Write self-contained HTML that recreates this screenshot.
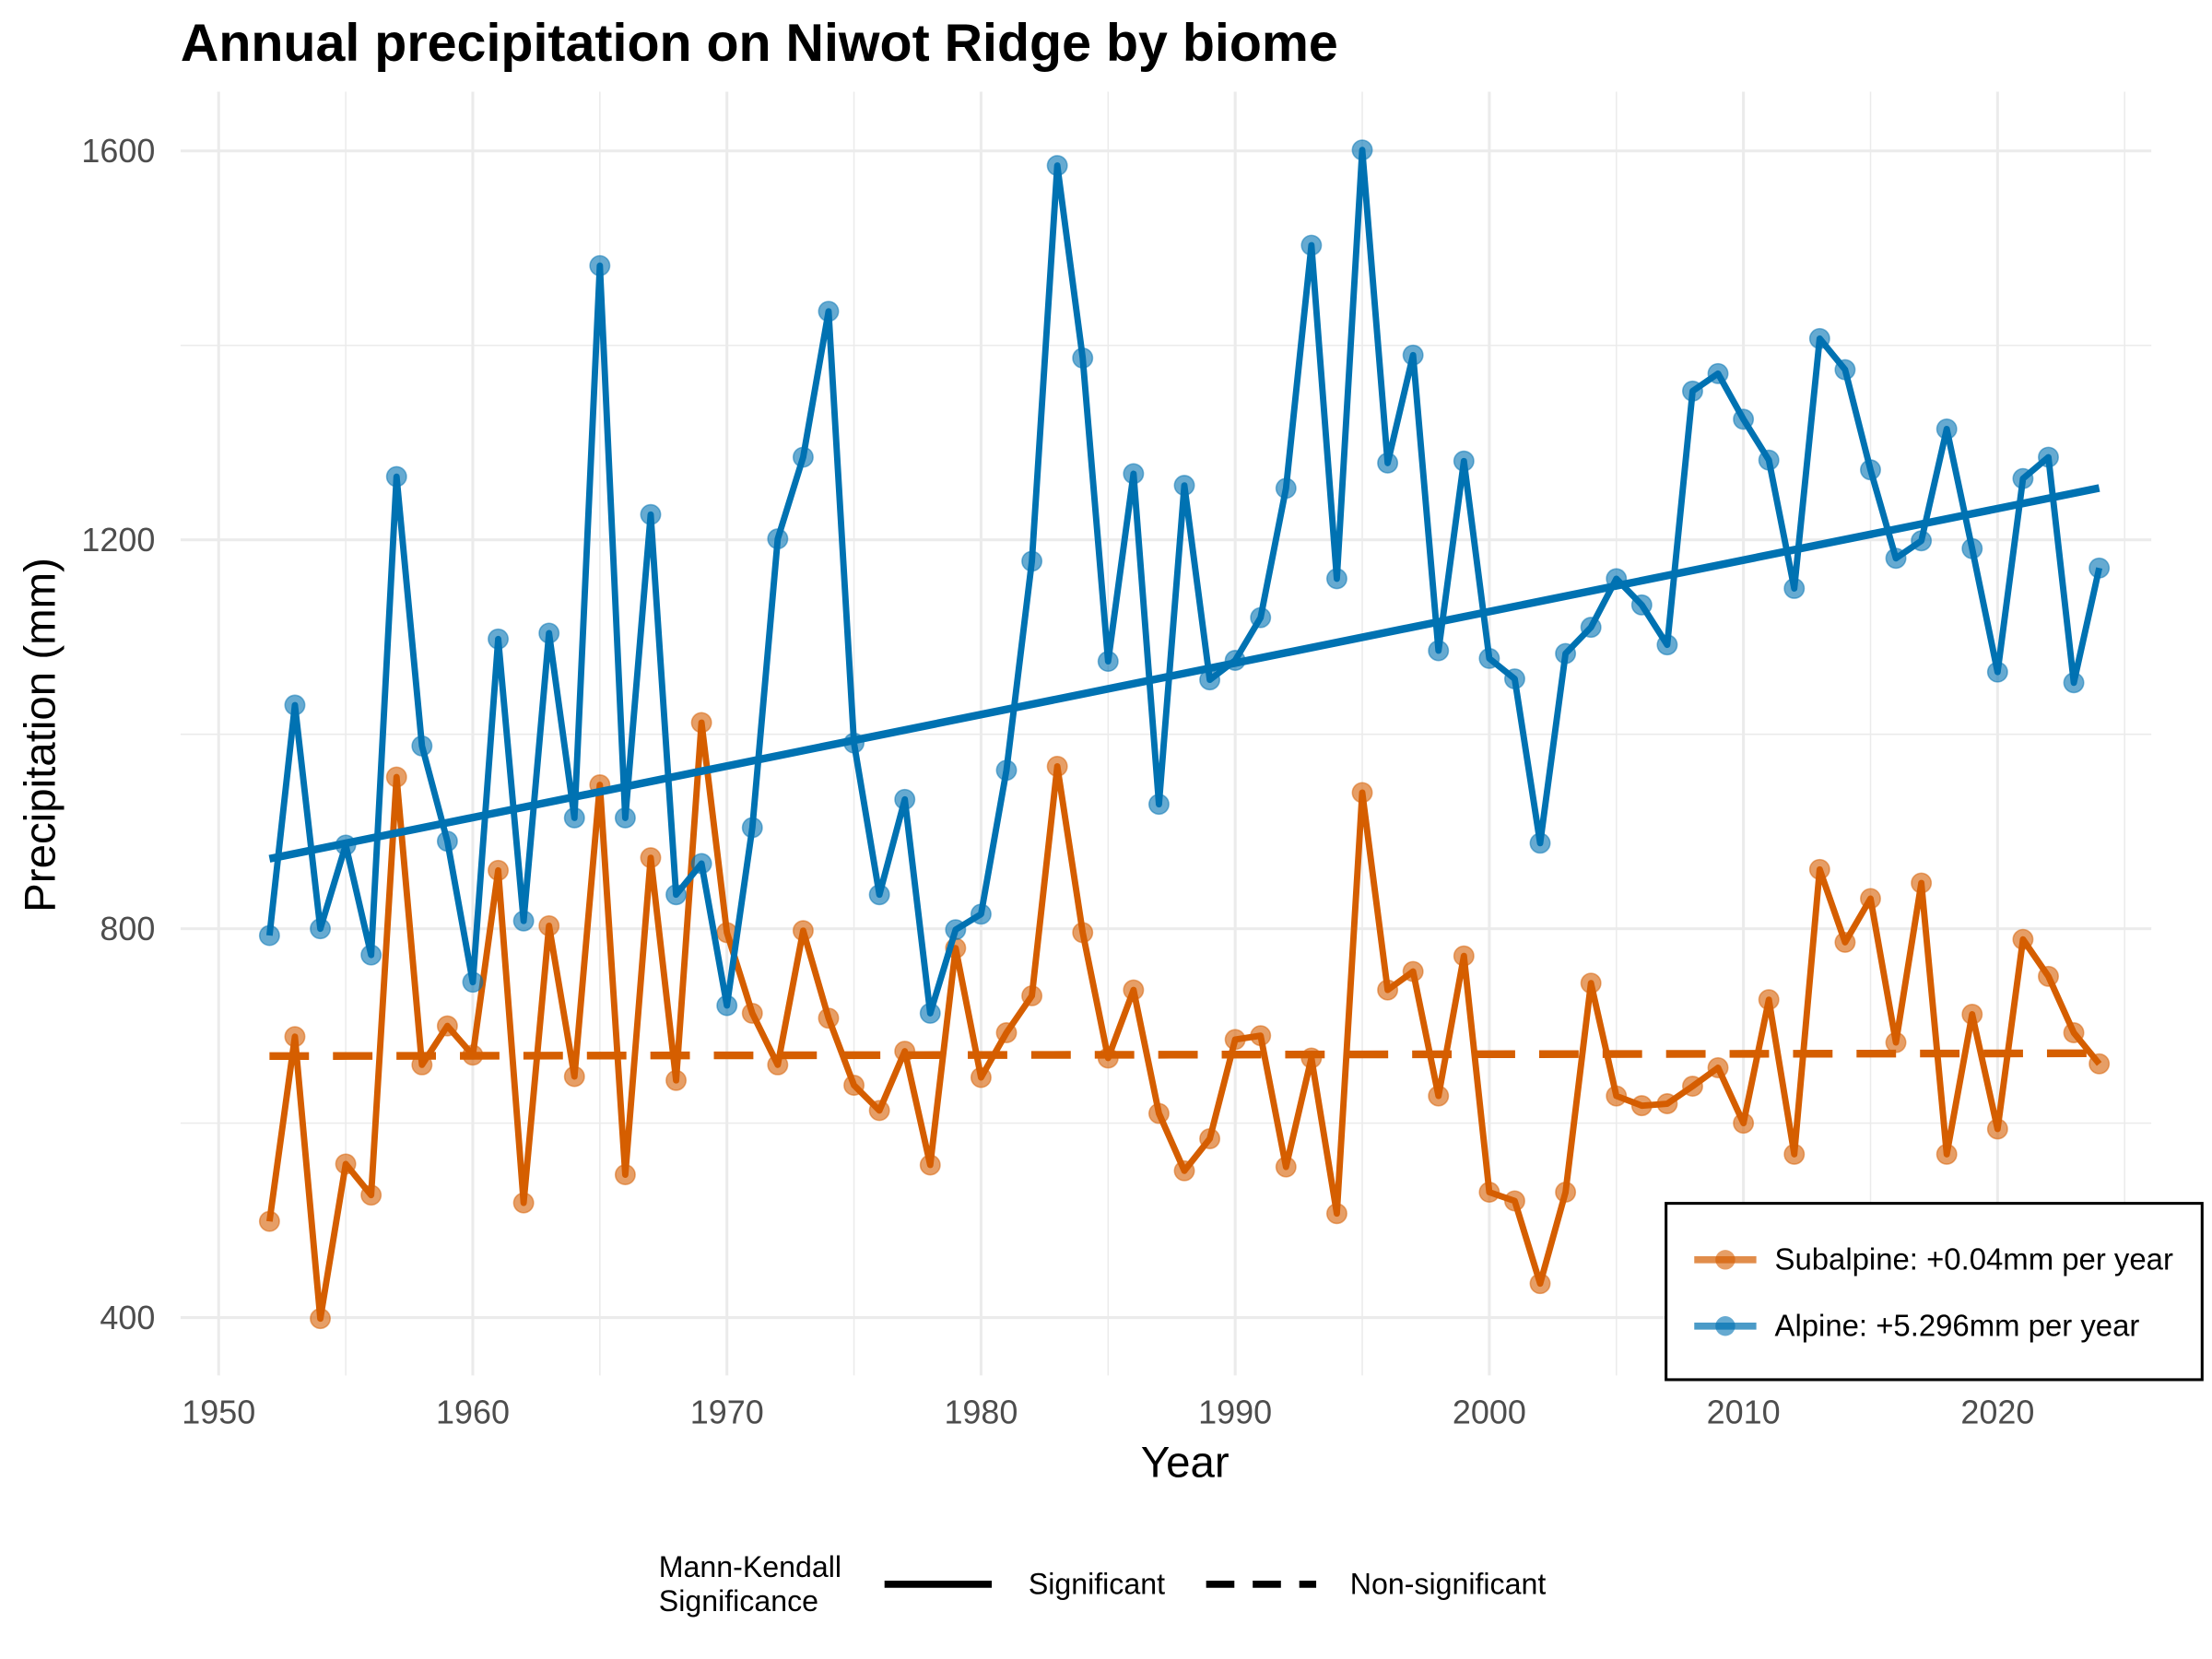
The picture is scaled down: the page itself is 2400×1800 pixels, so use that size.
<!DOCTYPE html>
<html><head><meta charset="utf-8"><style>
html,body{margin:0;padding:0;background:#fff;}
svg{display:block;font-family:"Liberation Sans",Arial,sans-serif;}
</style></head><body>
<svg id="chart" width="2400" height="1800" viewBox="0 0 1568 1176" xmlns="http://www.w3.org/2000/svg">
<rect width="1568" height="1176" fill="#fff"/>
<text x="128" y="43" font-size="37.5" font-weight="bold" fill="#000">Annual precipitation on Niwot Ridge by biome</text>
<g id="grid"></g>
<g id="series"></g>
<g id="axes"></g>
<text x="840" y="1047" font-size="31" text-anchor="middle" fill="#000">Year</text>
<text transform="translate(39,521) rotate(-90)" font-size="31" text-anchor="middle" fill="#000">Precipitation (mm)</text>
<g>
<rect x="1181" y="853" width="380" height="125" fill="#fff" stroke="#000" stroke-width="2"/>
<g>
<line x1="1201" y1="893" x2="1245" y2="893" stroke="#D55E00" stroke-width="5" opacity="0.7"/>
<circle cx="1223" cy="893" r="7" fill="#D55E00" opacity="0.6"/>
<text x="1258" y="900" font-size="21.5" fill="#000">Subalpine: +0.04mm per year</text>
</g>
<g>
<line x1="1201" y1="940" x2="1245" y2="940" stroke="#0072B2" stroke-width="5" opacity="0.7"/>
<circle cx="1223" cy="940" r="7" fill="#0072B2" opacity="0.6"/>
<text x="1258" y="947" font-size="21.5" fill="#000">Alpine: +5.296mm per year</text>
</g>
</g>
<g>
<text x="467" y="1118" font-size="21" fill="#000">Mann-Kendall</text>
<text x="467" y="1142" font-size="21" fill="#000">Significance</text>
<line x1="627" y1="1123" x2="703" y2="1123" stroke="#000" stroke-width="5"/>
<text x="729" y="1130" font-size="21" fill="#000">Significant</text>
<line x1="855" y1="1123" x2="933" y2="1123" stroke="#000" stroke-width="5" stroke-dasharray="20,13"/>
<text x="957" y="1130" font-size="21" fill="#000">Non-significant</text>
</g>
</svg>
<script>
const years = [];
for (let y = 1952; y <= 2024; y++) years.push(y);
const alpine = [793,1030,800,886,773,1265,988,890,745,1098,808,1104,914,1482,914,1226,835,867,721,904,1201,1285,1435,991,835,933,713,799,815,963,1178,1585,1387,1075,1268,928,1256,1056,1076,1120,1253,1503,1160,1601,1279,1390,1086,1281,1078,1057,888,1083,1110,1160,1133,1092,1353,1371,1324,1282,1150,1407,1375,1272,1181,1199,1314,1191,1064,1263,1285,1053,1171];
const subalpine = [499,689,399,558,526,956,660,700,670,860,518,803,648,948,547,873,644,1012,796,713,660,798,708,639,613,674,557,780,647,693,731,967,796,667,737,610,551,584,686,690,555,667,507,940,737,756,628,772,529,520,435,529,744,628,618,620,638,657,600,727,568,861,786,831,683,847,568,712,594,789,751,693,661];
const alpineTrend = [872, 5.296];
const subalpineTrend = [669, 0.04];
const xTicks = [1950,1960,1970,1980,1990,2000,2010,2020];
const yTicks = [400,800,1200,1600];

const NS = "http://www.w3.org/2000/svg";
function X(yr){ return 155 + (yr-1950)*(1416-155)/70; }
function Y(v){ return 934 - (v-400)*(934-107)/1200; }
function mk(tag, attrs, parent){ const e=document.createElementNS(NS,tag); for(const k in attrs) e.setAttribute(k,attrs[k]); parent.appendChild(e); return e; }

const grid = document.getElementById('grid');
const axes = document.getElementById('axes');
const L=128,R=1525,T=65,B=975;
for (let yr=1950; yr<=2025; yr+=5) {
  const l = mk('line',{x1:X(yr),x2:X(yr),y1:T,y2:B,stroke:'#ebebeb','stroke-width':yr%10===0?2:1},grid);
  
  
}
for (let v=400; v<=1600; v+=200) {
  const l = mk('line',{x1:L,x2:R,y1:Y(v),y2:Y(v),stroke:'#ebebeb','stroke-width':v%400===0?2:1},grid);
  
  
}
xTicks.forEach(t=>{
  const e = mk('text',{x:X(t),y:1009,'font-size':23.5,'text-anchor':'middle',fill:'#4d4d4d'},axes);
  e.textContent = t;
  
  
});
yTicks.forEach(t=>{
  const e = mk('text',{x:110,y:Y(t)+8,'font-size':23.5,'text-anchor':'end',fill:'#4d4d4d'},axes);
  e.textContent = t;
  
  
});

const series = document.getElementById('series');
function drawSeries(vals, color, trend, dashed, name){
  const g = mk('g',{},series);
  
  
  const pts = vals.map((v,i)=>X(years[i])+','+Y(v)).join(' ');
  const pl = mk('polyline',{points:pts,fill:'none',stroke:color,'stroke-width':4.5,'stroke-linejoin':'round'},g);
  
  
  vals.forEach((v,i)=>{
    const c = mk('circle',{cx:X(years[i]),cy:Y(v),r:7,fill:color,'fill-opacity':0.6,stroke:color,'stroke-opacity':0.5},g);
    
    
  });
  const y0 = years[0], y1 = years[years.length-1];
  const attrs = {x1:X(y0),y1:Y(trend[0]),x2:X(y1),y2:Y(trend[0]+trend[1]*(y1-y0)),stroke:color,'stroke-width':5.5};
  if (dashed) attrs['stroke-dasharray']='28,17';
  const tl = mk('line',attrs,g);
  
  
}
drawSeries(subalpine,'#D55E00',subalpineTrend,true,'subalpine');
drawSeries(alpine,'#0072B2',alpineTrend,false,'alpine');
</script>
</body></html>
